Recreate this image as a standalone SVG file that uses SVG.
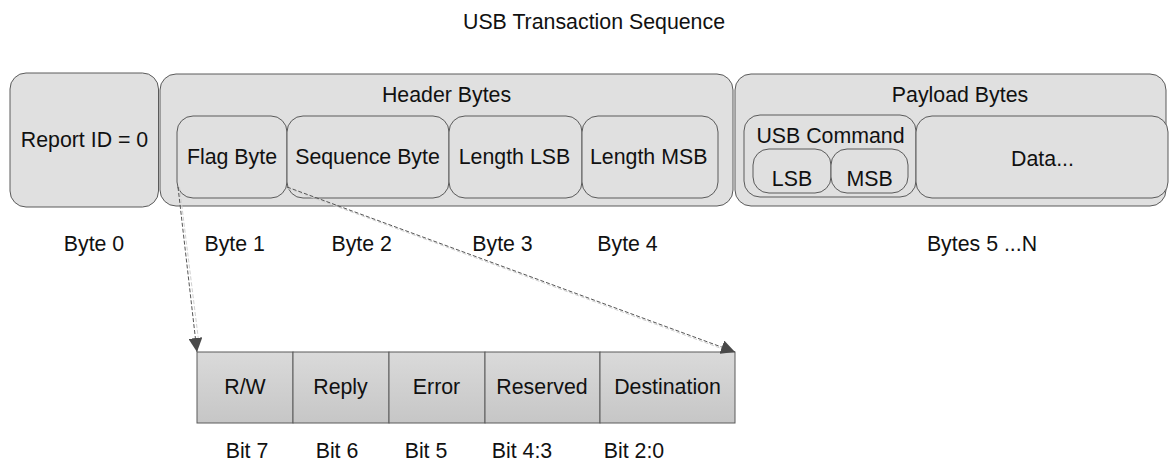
<svg xmlns="http://www.w3.org/2000/svg" width="1172" height="461" viewBox="0 0 1172 461">
<defs>
<linearGradient id="cellg" x1="0" y1="0" x2="0" y2="1">
<stop offset="0" stop-color="#dadada"/>
<stop offset="1" stop-color="#c6c6c6"/>
</linearGradient>
<marker id="ah" viewBox="0 0 10 10" refX="10" refY="5" markerWidth="14" markerHeight="14" markerUnits="userSpaceOnUse" orient="auto">
<path d="M0,0 L10,5 L0,10 z" fill="#4a4a4a"/>
</marker>
</defs>
<style>
.box{fill:#e0e0e0;stroke:#5a5a5a;stroke-width:1}
.cell{fill:url(#cellg);stroke:#5a5a5a;stroke-width:1}
text{font-family:"Liberation Sans",Arial,sans-serif;font-size:21.33px;fill:#111;text-anchor:middle}
.conn{fill:none;stroke:#555;stroke-width:1;stroke-dasharray:4,2}
.shadow{fill:none;stroke:#d0d0d0;stroke-width:1;stroke-dasharray:4,2}
</style>
<rect width="1172" height="461" fill="#ffffff"/>
<text x="594" y="29">USB Transaction Sequence</text>

<g id="report-id">
<rect class="box" x="10" y="73" width="148.5" height="134" rx="16"/>
<text x="84.5" y="147">Report ID = 0</text>
</g>

<g id="header-bytes">
<rect class="box" x="160" y="74" width="573" height="132" rx="16"/>
<text x="446.5" y="102">Header Bytes</text>
</g>
<g id="flag-byte">
<rect class="box" x="177" y="116" width="110" height="82" rx="16"/>
<text x="232" y="164">Flag Byte</text>
</g>
<g id="sequence-byte">
<rect class="box" x="287" y="116" width="162" height="82" rx="16"/>
<text x="367.5" y="164">Sequence Byte</text>
</g>
<g id="length-lsb">
<rect class="box" x="449" y="116" width="133" height="82" rx="16"/>
<text x="514.5" y="164">Length LSB</text>
</g>
<g id="length-msb">
<rect class="box" x="582" y="116" width="136" height="82" rx="16"/>
<text x="648.7" y="164">Length MSB</text>
</g>

<g id="payload-bytes">
<rect class="box" x="735" y="74" width="431" height="132" rx="16"/>
<text x="960" y="102">Payload Bytes</text>
</g>
<g id="usb-command">
<rect class="box" x="744" y="115" width="172" height="82" rx="16"/>
<text x="830.5" y="143">USB Command</text>
</g>
<g id="cmd-lsb">
<rect class="box" x="753" y="149" width="78" height="44" rx="16"/>
<text x="792" y="186">LSB</text>
</g>
<g id="cmd-msb">
<rect class="box" x="831" y="149" width="77" height="44" rx="16"/>
<text x="869.5" y="186">MSB</text>
</g>
<g id="data">
<rect class="box" x="916" y="116" width="252" height="82" rx="16"/>
<text x="1042.5" y="166">Data...</text>
</g>

<g id="byte-labels">
<text x="94" y="251">Byte 0</text>
<text x="234.7" y="251">Byte 1</text>
<text x="361.7" y="251">Byte 2</text>
<text x="502.5" y="251">Byte 3</text>
<text x="627.5" y="251">Byte 4</text>
<text x="982" y="251">Bytes 5 ...N</text>
</g>

<g id="bit-rw">
<rect class="cell" x="197" y="352" width="96" height="71"/>
<text x="245" y="394">R/W</text>
</g>
<g id="bit-reply">
<rect class="cell" x="293" y="352" width="96" height="71"/>
<text x="340.5" y="394">Reply</text>
</g>
<g id="bit-error">
<rect class="cell" x="389" y="352" width="96" height="71"/>
<text x="436.5" y="394">Error</text>
</g>
<g id="bit-reserved">
<rect class="cell" x="485" y="352" width="115" height="71"/>
<text x="542" y="394">Reserved</text>
</g>
<g id="bit-destination">
<rect class="cell" x="600" y="352" width="135" height="71"/>
<text x="667.5" y="394">Destination</text>
</g>

<g id="bit-labels">
<text x="247" y="458">Bit 7</text>
<text x="337" y="458">Bit 6</text>
<text x="426" y="458">Bit 5</text>
<text x="522" y="458">Bit 4:3</text>
<text x="634" y="458">Bit 2:0</text>
</g>

<g id="connectors">
<line class="shadow" x1="179.5" y1="187" x2="198.5" y2="340"/>
<line class="shadow" x1="288" y1="188.5" x2="724" y2="349.5"/>
<line class="conn" x1="178" y1="187" x2="197" y2="352" marker-end="url(#ah)"/>
<line class="conn" x1="287" y1="187" x2="735" y2="352" marker-end="url(#ah)"/>
</g>
</svg>
